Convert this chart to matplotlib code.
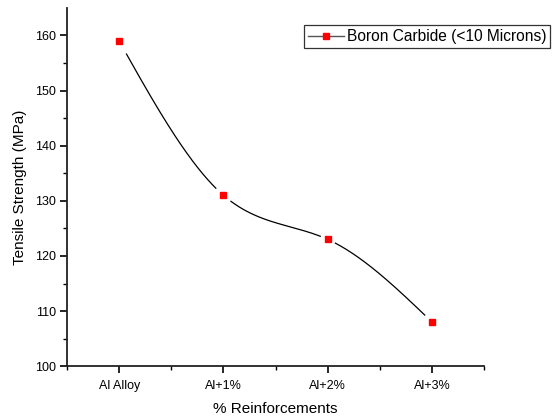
import numpy as np
import matplotlib as mpl
mpl.use('Agg')
import matplotlib.pyplot as plt
from matplotlib.lines import Line2D

plt.rcParams['font.family'] = ['Liberation Sans', 'DejaVu Sans']

categories = ['Al Alloy', 'Al+1%', 'Al+2%', 'Al+3%']
strength = [159, 131, 123, 108]
series_name = 'Boron Carbide (<10 Microns)'


def natural_spline(x, y, xs):
    # plain natural cubic spline, no scipy needed
    x = np.asarray(x, float)
    y = np.asarray(y, float)
    n = len(x)
    h = np.diff(x)
    A = np.zeros((n, n))
    b = np.zeros(n)
    A[0, 0] = 1
    A[-1, -1] = 1
    for i in range(1, n - 1):
        A[i, i - 1] = h[i - 1]
        A[i, i] = 2 * (h[i - 1] + h[i])
        A[i, i + 1] = h[i]
        b[i] = 3 * ((y[i + 1] - y[i]) / h[i] - (y[i] - y[i - 1]) / h[i - 1])
    c = np.linalg.solve(A, b)
    out = np.empty_like(xs)
    for k, xv in enumerate(xs):
        i = min(np.searchsorted(x, xv, side='right') - 1, n - 2)
        i = max(i, 0)
        dx = xv - x[i]
        bi = (y[i + 1] - y[i]) / h[i] - h[i] * (2 * c[i] + c[i + 1]) / 3
        di = (c[i + 1] - c[i]) / (3 * h[i])
        out[k] = y[i] + bi * dx + c[i] * dx ** 2 + di * dx ** 3
    return out


xpos = np.arange(len(categories))
xs = np.linspace(xpos[0], xpos[-1], 600)
ys = natural_spline(xpos, strength, xs)
# leave a small gap around each marker, like Origin does
for xp in xpos:
    ys[np.abs(xs - xp) < 0.07] = np.nan

fig = plt.figure(figsize=(5.54, 4.18), dpi=100)
ax = fig.add_axes([0.121, 0.124, 0.753, 0.857])

ax.plot(xs, ys, color='black', lw=0.9)
ax.plot(xpos, strength, ls='none', marker='s', ms=5, color='#ff0000', mec='#ff0000')

ax.set_xlim(-0.5, 3.5)
ax.set_ylim(100, 165)
ax.set_xticks(xpos)
ax.set_xticklabels(categories)
ax.set_xticks(np.arange(-0.5, 3.6, 1.0), minor=True)
ax.set_yticks(np.arange(100, 161, 10))
ax.set_yticks(np.arange(105, 165, 10), minor=True)

for s in ['top', 'right']:
    ax.spines[s].set_visible(False)
for s in ['left', 'bottom']:
    ax.spines[s].set_linewidth(1.3)
    ax.spines[s].set_color('#222222')

ax.tick_params(which='major', direction='out', length=5, width=1.2, labelsize=9, pad=3)
ax.tick_params(which='minor', direction='out', length=3, width=1.0)
ax.tick_params(axis='x', which='major', pad=5)

ax.set_xlabel('% Reinforcements', fontsize=11, labelpad=7)
ax.set_ylabel('Tensile Strength (MPa)', fontsize=11, labelpad=6)

handle = Line2D([], [], color='#555555', lw=1, marker='s', ms=5,
                mfc='#ff0000', mec='#ff0000')
leg = ax.legend([handle], [series_name], loc='upper left',
                bbox_to_anchor=(0.568, 0.952), fontsize=11.2, frameon=True,
                fancybox=False, handlelength=2.3, handletextpad=0.2,
                borderpad=0.25, borderaxespad=0)
leg.get_frame().set_edgecolor('black')
leg.get_frame().set_linewidth(0.9)

fig.savefig('out.png', dpi=100)
